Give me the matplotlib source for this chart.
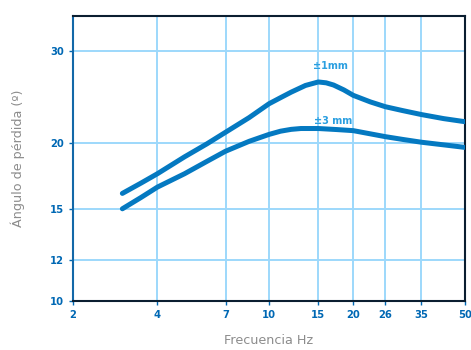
import numpy as np
import matplotlib
matplotlib.use('Agg')
import matplotlib.pyplot as plt
from matplotlib.ticker import FixedLocator, NullLocator

# valeurs
freq_1mm = [3, 3.5, 4, 5, 6, 7, 8.5, 10, 11, 12, 13.5, 15, 16, 17, 18.5, 20, 23, 26, 30, 35, 42, 50]
angle_1mm = [16.05, 16.8, 17.5, 18.85, 19.95, 21.0, 22.4, 23.8, 24.45, 25.05, 25.8, 26.2, 26.1, 25.85,
             25.3, 24.7, 24.0, 23.5, 23.1, 22.7, 22.3, 22.0]

freq_3mm = [3, 3.5, 4, 5, 6, 7, 8.5, 10, 11, 12, 13, 15, 17.5, 20, 26, 30, 35, 42, 50]
angle_3mm = [15.0, 15.77, 16.5, 17.5, 18.47, 19.32, 20.18, 20.8, 21.1, 21.27, 21.35, 21.35, 21.25, 21.15,
             20.6, 20.35, 20.1, 19.87, 19.65]

x_ticks = [2, 4, 7, 10, 15, 20, 26, 35, 50]
y_ticks = [10, 12, 15, 20, 30]

line_col = '#0479c1'
tick_col = '#0068b4'
grid_col = '#9dd8fb'

plt.rcParams['font.family'] = ['DejaVu Sans']

fig = plt.figure(figsize=(4.71, 3.5), dpi=100)
ax = fig.add_axes([0.155, 0.14, 0.832, 0.814])

ax.set_xscale('log')
ax.set_yscale('log')
ax.set_xlim(2, 50)
ax.set_ylim(10, 35)

ax.xaxis.set_major_locator(FixedLocator(x_ticks))
ax.yaxis.set_major_locator(FixedLocator(y_ticks))
ax.xaxis.set_minor_locator(NullLocator())
ax.yaxis.set_minor_locator(NullLocator())
ax.set_xticklabels([str(v) for v in x_ticks])
ax.set_yticklabels([str(v) for v in y_ticks])

ax.grid(True, color=grid_col, linewidth=1.4, zorder=0)
ax.set_axisbelow(True)

ax.tick_params(axis='both', direction='out', length=3, width=1, color=tick_col,
               labelcolor=tick_col, labelsize=7.2)
for lab in ax.get_xticklabels() + ax.get_yticklabels():
    lab.set_fontweight('bold')

ax.spines['left'].set_color('#1368a8')
ax.spines['left'].set_linewidth(1.5)
for s in ['top', 'bottom', 'right']:
    ax.spines[s].set_color('#0b1e30')
    ax.spines[s].set_linewidth(1.5)

ax.plot(freq_1mm, angle_1mm, color=line_col, linewidth=3.6, solid_capstyle='round',
        solid_joinstyle='round', zorder=3)
ax.plot(freq_3mm, angle_3mm, color=line_col, linewidth=3.6, solid_capstyle='round',
        solid_joinstyle='round', zorder=3)

ax.text(16.6, 28.1, '±1mm', color='#2b9fe0', fontsize=7, fontweight='bold', ha='center', va='center')
ax.text(17.0, 22.1, '±3 mm', color='#2b9fe0', fontsize=7, fontweight='bold', ha='center', va='center')

ax.set_xlabel('Frecuencia Hz', color='#8c8c8c', fontsize=9.2, labelpad=10)
ax.set_ylabel('Ángulo de pérdida (º)', color='#8c8c8c', fontsize=9.2, labelpad=18)

fig.savefig('out.png', dpi=100)
